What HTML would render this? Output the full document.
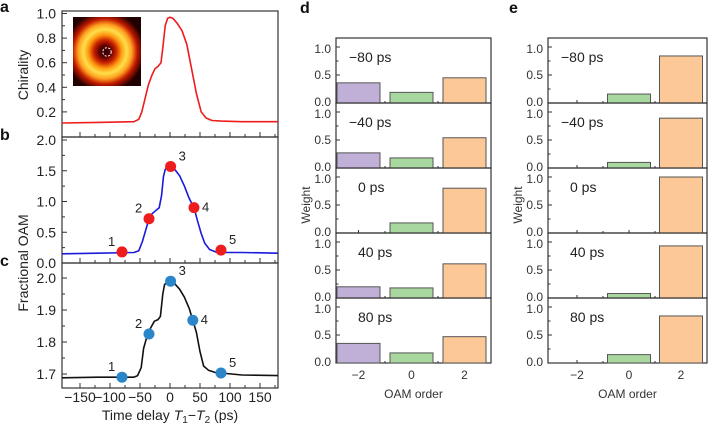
<!DOCTYPE html>
<html><head><meta charset="utf-8"><style>
body{margin:0;background:#fff}
svg{display:block;font-family:"Liberation Sans",Arial,sans-serif}
</style></head><body>
<svg id="fig" width="708" height="424" viewBox="0 0 708 424">
<defs>
<radialGradient id="donut" cx="0.47" cy="0.5" r="0.58">
<stop offset="0" stop-color="#300000"/><stop offset="0.15" stop-color="#600000"/>
<stop offset="0.28" stop-color="#c82000"/><stop offset="0.42" stop-color="#ff9a10"/>
<stop offset="0.55" stop-color="#ffe04a"/><stop offset="0.68" stop-color="#ffa020"/>
<stop offset="0.82" stop-color="#c01800"/><stop offset="1" stop-color="#200000"/>
</radialGradient>
</defs>
<g id="root"></g>
</svg>
<script>
// ---- data ----
const chirT=[-180,-120,-60,-52,-47,-42,-36,-30,-25,-20,-15,-12,-8,-4,0,5,12,20,28,36,44,52,60,70,85,120,180];
const chirV=[0.11,0.115,0.12,0.14,0.2,0.3,0.42,0.5,0.55,0.57,0.6,0.72,0.9,0.96,0.97,0.96,0.92,0.86,0.75,0.55,0.35,0.2,0.15,0.13,0.125,0.12,0.12];
const oamBT=[-180,-120,-60,-52,-46,-40,-35,-30,-24,-18,-14,-11,-8,-4,0,8,16,24,32,40,46,52,58,66,76,90,120,180];
const oamBV=[0.15,0.16,0.17,0.2,0.35,0.55,0.72,0.8,0.85,0.9,1.1,1.4,1.52,1.56,1.57,1.52,1.42,1.25,1.05,0.9,0.68,0.48,0.32,0.22,0.18,0.17,0.17,0.16];
const mkBT=[-80,-35,1,40,85];
const mkBV=[0.18,0.72,1.57,0.9,0.21];
const oamCT=[-180,-120,-60,-54,-48,-44,-38,-32,-26,-20,-16,-12,-9,-5,0,8,16,24,32,38,44,50,56,64,75,85,120,180];
const oamCV=[1.688,1.69,1.69,1.695,1.72,1.78,1.82,1.845,1.865,1.87,1.88,1.95,1.98,1.985,1.99,1.982,1.965,1.94,1.905,1.868,1.83,1.77,1.725,1.712,1.705,1.703,1.697,1.695];
const mkCT=[-80,-35,1,38,85];
const mkCV=[1.69,1.825,1.99,1.868,1.703];
const delays=["−80 ps","−40 ps","0 ps","40 ps","80 ps"];
const orders=[-2,0,2];
const dWeights=[[0.36,0.19,0.45],[0.27,0.18,0.54],[0,0.18,0.80],[0.2,0.18,0.61],[0.35,0.18,0.47]];
const eWeights=[[0,0.16,0.84],[0,0.10,0.89],[0,0,1.0],[0,0.08,0.93],[0,0.15,0.84]];
const barColors=["#c0b0d8","#a8d8a0","#fcc898"];
const xTicks=[-150,-100,-50,0,50,100,150];

const NS="http://www.w3.org/2000/svg";
const root=document.getElementById('root');
function el(tag,attrs,parent,txt){const e=document.createElementNS(NS,tag);for(const k in attrs)e.setAttribute(k,attrs[k]);if(txt!==undefined)e.textContent=txt;(parent||root).appendChild(e);return e;}
const XL=62,XR=278;
const sx=t=>XL+(t+180)/360*(XR-XL);
function lin(v0,v1,p0,p1){return v=>p0+(v-v0)/(v1-v0)*(p1-p0);}

function panel(name,top,bot,yscale,yt,ylabelsFmt,T,V,col,mT,mV,mCol){
  const g=el('g',{});
  
  
  el('rect',{x:XL,y:top,width:XR-XL,height:bot-top,fill:'none',stroke:'#333','stroke-width':1.2},g);
  for(let t=-175;t<=175;t+=25){if(t===-175)continue;const x=sx(t);const major=t%50===0;el('line',{x1:x,x2:x,y1:bot,y2:bot-(major?5:3),stroke:'#333'},g);}
  yt.forEach((v,i)=>{const y=yscale(v);el('line',{x1:XL,x2:XL+5,y1:y,y2:y,stroke:'#333'},g);
    const lab=el('text',{x:XL-6,y:y+5,'text-anchor':'end','font-size':14,fill:'#222'},g,ylabelsFmt(v));
    
    if(i<yt.length-1){const ym=yscale((v+yt[i+1])/2);el('line',{x1:XL,x2:XL+3,y1:ym,y2:ym,stroke:'#333'},g);}});
  const d=T.map((t,i)=>(i?'L':'M')+sx(t).toFixed(1)+','+yscale(V[i]).toFixed(1)).join('');
  const p=el('path',{d:d,fill:'none',stroke:col,'stroke-width':1.6,'stroke-linejoin':'round'},g);
  
  if(mT){mT.forEach((t,i)=>{const c=el('circle',{cx:sx(t),cy:yscale(mV[i]),r:5.5,fill:mCol},g);
    
    const off=i===1?[-14,-6]:i===0?[-14,-6]:[8,-6];
    el('text',{x:sx(t)+off[0],y:yscale(mV[i])+off[1]+(i===3?10:0),'font-size':13,fill:'#222'},g,String(i+1));});}
}
const ya=lin(0,1,136.5,13.5);
panel('chirality-panel',11,137,ya,[0.2,0.4,0.6,0.8,1.0],v=>v.toFixed(1),chirT,chirV,'#ee1c1c');
const yb=lin(0,2,263,140);
panel('oam-panel-b',137,263,yb,[0,0.5,1.0,1.5,2.0],v=>v.toFixed(1),oamBT,oamBV,'#1a1adc',mkBT,mkBV,'#ee1c1c');
const yc=lin(1.7,2.0,374,278);
panel('oam-panel-c',263,388,yc,[1.7,1.8,1.9,2.0],v=>v.toFixed(1),oamCT,oamCV,'#111',mkCT,mkCV,'#2a86c8');
// inset
const ins=el('g',{});

el('rect',{x:73,y:17,width:68,height:69,fill:'#000'},ins);
el('rect',{x:73,y:17,width:68,height:69,fill:'url(#donut)'},ins);
el('circle',{cx:107,cy:52,r:4.2,fill:'none',stroke:'#fff','stroke-width':1,'stroke-dasharray':'2,1.5'},ins);
// x tick labels
xTicks.forEach(t=>{const l=el('text',{x:sx(t),y:402,'text-anchor':'middle','font-size':14,fill:'#222'},root,t<0?'−'+(-t):String(t));
  });
const xt=el('text',{x:170,y:420,'text-anchor':'middle','font-size':14,fill:'#222'});

xt.innerHTML='Time delay <tspan font-style="italic">T</tspan><tspan font-size="10" dy="3">1</tspan><tspan dy="-3">−</tspan><tspan font-style="italic">T</tspan><tspan font-size="10" dy="3">2</tspan><tspan dy="-3"> (ps)</tspan>';
const yt1=el('text',{transform:'translate(28,75) rotate(-90)','text-anchor':'middle','font-size':14,fill:'#222'},root,'Chirality');

const yt2=el('text',{transform:'translate(28,263) rotate(-90)','text-anchor':'middle','font-size':14,fill:'#222'},root,'Fractional OAM');

[['a',0,12],['b',0,140],['c',0,266],['d',300,13],['e',509,13]].forEach(([s,x,y])=>{const t=el('text',{x:x,y:y,'font-size':16,'font-weight':'bold',fill:'#111'},root,s);
  });

function barPanel(name,L,R,c0,step,weights){
  const g=el('g',{});
  
  const bx=o=>c0+(o+2)*step;
  const bw=43;
  weights.forEach((w,k)=>{
    const top=38+65*k,bot=top+65;const ys=lin(0,1,bot,bot-56);
    el('rect',{x:L,y:top,width:R-L,height:65,fill:'none',stroke:'#333','stroke-width':1.2},g);
    [0,0.5,1].forEach(v=>{el('line',{x1:L,x2:L+4,y1:ys(v),y2:ys(v),stroke:'#333'},g);
      el('text',{x:L-5,y:ys(v)+(v===1?6:v===0?3:4),'text-anchor':'end','font-size':12,fill:'#333'},g,v.toFixed(1));});
    [0.25,0.75].forEach(v=>el('line',{x1:L,x2:L+2.5,y1:ys(v),y2:ys(v),stroke:'#333'},g));
    orders.forEach((o,i)=>{el('line',{x1:bx(o),x2:bx(o),y1:bot,y2:bot-3,stroke:'#333'},g);
      if(i<2){const xm=bx(o+1);el('line',{x1:xm,x2:xm,y1:bot,y2:bot-2,stroke:'#333'},g);}
      if(w[i]>0){const r=el('rect',{x:bx(o)-bw/2,y:ys(w[i]),width:bw,height:bot-ys(w[i]),fill:barColors[i],stroke:'#555','stroke-width':1},g);
        }});
    el('text',{x:L+(k>=2?22:13),y:top+24,'font-size':14,fill:'#222'},g,delays[k]);
  });
  orders.forEach(o=>el('text',{x:bx(o),y:379,'text-anchor':'middle','font-size':12,fill:'#333'},g,o<0?'−'+(-o):String(o)));
  el('text',{x:(L+R)/2,y:398,'text-anchor':'middle','font-size':12,fill:'#333'},g,'OAM order');
  el('text',{transform:'translate('+(L-26)+',205) rotate(-90)','text-anchor':'middle','font-size':12,fill:'#333'},g,'Weight');
}
barPanel('weights-panel-d',336,491,358.5,26.5,dWeights);
barPanel('weights-panel-e',548,707,577,26,eWeights);
</script>
</body></html>
